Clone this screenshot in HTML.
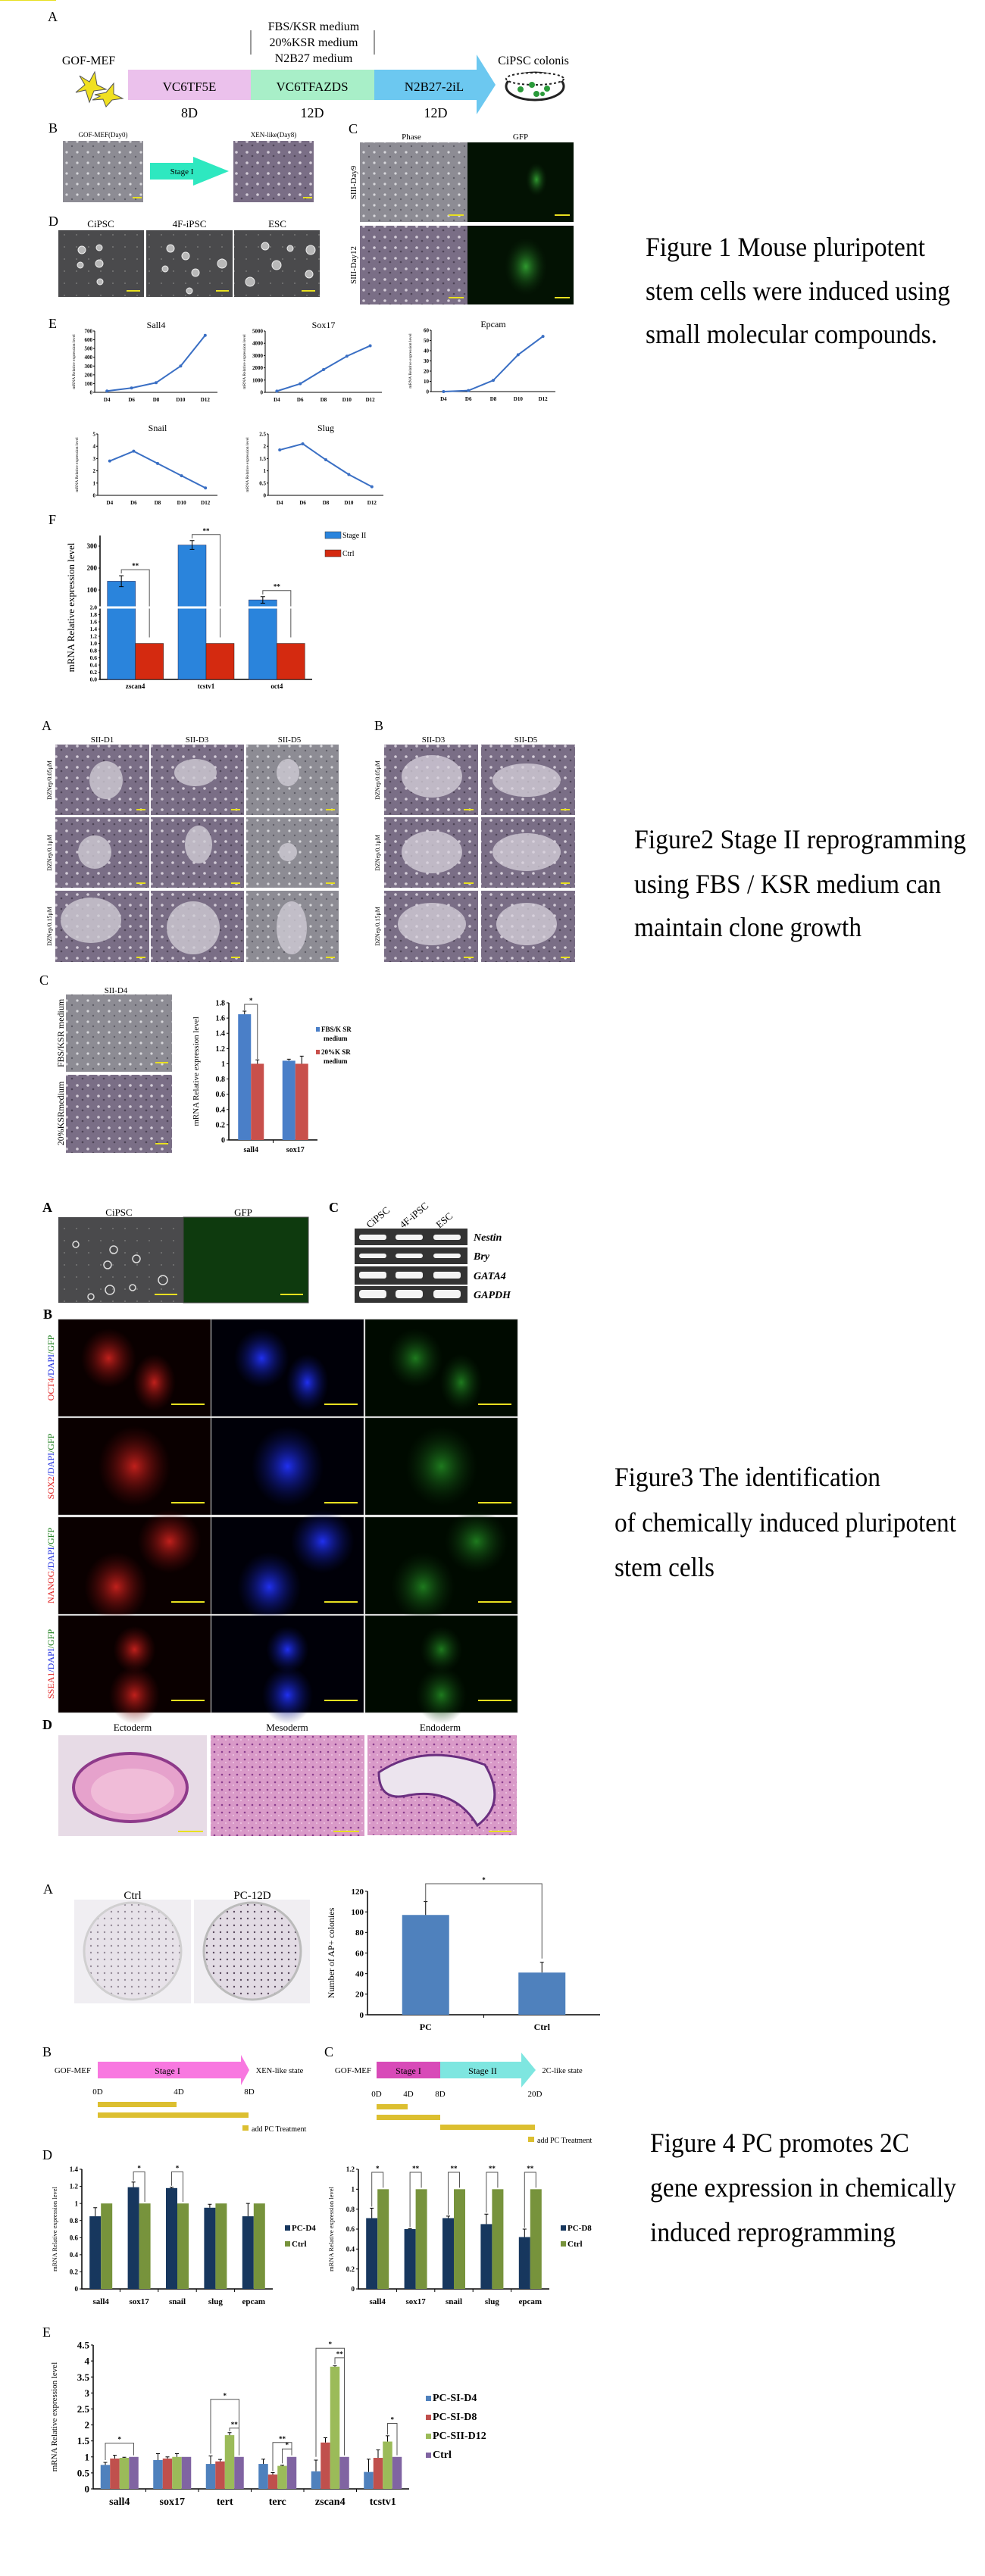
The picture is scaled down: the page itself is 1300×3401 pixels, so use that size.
<!DOCTYPE html>
<html><head><meta charset="utf-8">
<style>
html,body{margin:0;padding:0;background:#fff;}
svg{display:block;font-family:"Liberation Serif",serif;}
</style></head>
<body>
<svg id="page" xmlns="http://www.w3.org/2000/svg" width="1300" height="3401" viewBox="0 0 1300 3401">
<defs>
<pattern id="phase" width="14" height="14" patternUnits="userSpaceOnUse"><rect width="14" height="14" fill="#8d8c94"/><circle cx="4" cy="5" r="1.6" fill="#d8d8dc"/><circle cx="11" cy="11" r="1.2" fill="#5e5d66"/></pattern>
<pattern id="phasep" width="14" height="14" patternUnits="userSpaceOnUse"><rect width="14" height="14" fill="#7a6e86"/><circle cx="4" cy="5" r="1.8" fill="#d4cdd8"/><circle cx="11" cy="10" r="1.3" fill="#4d4356"/></pattern>
<pattern id="dark" width="16" height="16" patternUnits="userSpaceOnUse"><rect width="16" height="16" fill="#4a4a4c"/><circle cx="5" cy="6" r="1" fill="#777"/></pattern>
<pattern id="he" width="10" height="10" patternUnits="userSpaceOnUse"><rect width="10" height="10" fill="#d99ac8"/><circle cx="3" cy="3" r="1.3" fill="#8a3d8e"/><circle cx="8" cy="7" r="1" fill="#f0c8e4"/></pattern>
<pattern id="plate" width="9" height="9" patternUnits="userSpaceOnUse"><rect width="9" height="9" fill="#e2dbe4"/><circle cx="3" cy="4" r="1.2" fill="#5a4a5e"/></pattern>
<radialGradient id="gfp"><stop offset="0" stop-color="#2f9a2f"/><stop offset="1" stop-color="#0c2a0c" stop-opacity="0"/></radialGradient>
<radialGradient id="red"><stop offset="0" stop-color="#c0201c"/><stop offset="1" stop-color="#5a0808" stop-opacity="0"/></radialGradient>
<radialGradient id="blue"><stop offset="0" stop-color="#2030f0"/><stop offset="1" stop-color="#081060" stop-opacity="0"/></radialGradient>
<radialGradient id="green"><stop offset="0" stop-color="#1e7a1e"/><stop offset="1" stop-color="#0a2a0a" stop-opacity="0"/></radialGradient>
</defs>

<!-- ============ FIGURE 1 ============ -->
<g font-size="13">
<text x="63" y="28" font-size="18">A</text>
<text x="117" y="85" text-anchor="middle" font-size="16">GOF-MEF</text>
<g fill="#f0e020" stroke="#555" stroke-width="1">
<polygon points="105,100 118,108 125,95 128,112 140,118 124,120 118,135 113,119 100,122 112,112"/>
<polygon points="125,125 140,122 150,110 150,124 162,130 148,132 140,141 136,131 122,132 132,127"/>
</g>
<rect x="169" y="92" width="162" height="40" fill="#ebc1ec"/>
<rect x="331" y="92" width="163" height="40" fill="#a8efc8"/>
<polygon points="494,92 629,92 629,72 654,112 629,151 629,132 494,132" fill="#6cc8f0"/>
<text x="250" y="120" text-anchor="middle" font-size="17">VC6TF5E</text>
<text x="412" y="120" text-anchor="middle" font-size="17">VC6TFAZDS</text>
<text x="573" y="120" text-anchor="middle" font-size="17">N2B27-2iL</text>
<line x1="331" y1="40" x2="331" y2="72" stroke="#333"/>
<line x1="494" y1="40" x2="494" y2="72" stroke="#333"/>
<text x="414" y="40" text-anchor="middle" font-size="16">FBS/KSR medium</text>
<text x="414" y="61" text-anchor="middle" font-size="16">20%KSR medium</text>
<text x="414" y="82" text-anchor="middle" font-size="16">N2B27 medium</text>
<text x="250" y="155" text-anchor="middle" font-size="18">8D</text>
<text x="412" y="155" text-anchor="middle" font-size="18">12D</text>
<text x="575" y="155" text-anchor="middle" font-size="18">12D</text>
<text x="704" y="85" text-anchor="middle" font-size="16">CiPSC colonis</text>
<g>
<ellipse cx="706" cy="114" rx="38" ry="18" fill="#fff" stroke="#222" stroke-width="3"/>
<ellipse cx="706" cy="104" rx="38" ry="8" fill="#fff" stroke="#222" stroke-width="2" stroke-dasharray="3 3"/>
<circle cx="687" cy="118" r="4" fill="#2a9a3a"/><circle cx="702" cy="112" r="4" fill="#2a9a3a"/><circle cx="708" cy="124" r="4" fill="#2a9a3a"/><circle cx="722" cy="117" r="4" fill="#2a9a3a"/><circle cx="716" cy="124" r="3" fill="#2a9a3a"/>
</g>

<text x="64" y="175" font-size="18">B</text>
<text x="136" y="181" text-anchor="middle" font-size="9">GOF-MEF(Day0)</text>
<text x="361" y="181" text-anchor="middle" font-size="9">XEN-like(Day8)</text>
<rect x="83" y="186" width="106" height="81" fill="url(#phase)"/>
<rect x="308" y="186" width="106" height="81" fill="url(#phasep)"/>
<polygon points="198,215 255,215 255,207 302,226 255,245 255,237 198,237" fill="#2ee8c0"/>
<text x="240" y="230" text-anchor="middle" font-size="11">Stage I</text>

<text x="460" y="176" font-size="18">C</text>
<text x="543" y="184" text-anchor="middle" font-size="11">Phase</text>
<text x="687" y="184" text-anchor="middle" font-size="11">GFP</text>
<rect x="475" y="188" width="142" height="105" fill="url(#phase)"/>
<rect x="617" y="188" width="140" height="105" fill="#031203"/>
<ellipse cx="708" cy="237" rx="14" ry="22" fill="url(#gfp)"/>
<rect x="475" y="298" width="142" height="104" fill="url(#phasep)"/>
<rect x="617" y="298" width="140" height="104" fill="#031203"/>
<ellipse cx="694" cy="352" rx="28" ry="38" fill="url(#gfp)"/>
<text transform="translate(470,241) rotate(-90)" text-anchor="middle" font-size="11">SIII-Day9</text>
<text transform="translate(470,350) rotate(-90)" text-anchor="middle" font-size="11">SIII-Day12</text>

<text x="64" y="298" font-size="18">D</text>
<text x="133" y="300" text-anchor="middle" font-size="13">CiPSC</text>
<text x="250" y="300" text-anchor="middle" font-size="13">4F-iPSC</text>
<text x="366" y="300" text-anchor="middle" font-size="13">ESC</text>
<rect x="77" y="304" width="113" height="88" fill="url(#dark)"/>
<rect x="193" y="304" width="114" height="88" fill="url(#dark)"/>
<rect x="309" y="304" width="113" height="88" fill="url(#dark)"/>
<g fill="#b8b8b8" stroke="#eee" stroke-width="1">
<circle cx="108" cy="330" r="5"/><circle cx="131" cy="327" r="4"/><circle cx="106" cy="350" r="4"/><circle cx="131" cy="348" r="5"/><circle cx="132" cy="372" r="4"/>
<circle cx="225" cy="328" r="5"/><circle cx="245" cy="338" r="5"/><circle cx="218" cy="355" r="4"/><circle cx="258" cy="360" r="5"/><circle cx="293" cy="348" r="6"/><circle cx="250" cy="384" r="4"/>
<circle cx="350" cy="325" r="5"/><circle cx="383" cy="328" r="4"/><circle cx="410" cy="330" r="6"/><circle cx="365" cy="350" r="6"/><circle cx="408" cy="362" r="5"/><circle cx="330" cy="372" r="6"/>
</g>
<g stroke="#e8e020" stroke-width="2">
<line x1="175" y1="261" x2="187" y2="261"/><line x1="400" y1="261" x2="412" y2="261"/>
<line x1="592" y1="284" x2="612" y2="284"/><line x1="732" y1="284" x2="752" y2="284"/>
<line x1="592" y1="393" x2="612" y2="393"/><line x1="732" y1="393" x2="752" y2="393"/>
<line x1="167" y1="384" x2="185" y2="384"/><line x1="285" y1="384" x2="302" y2="384"/><line x1="398" y1="384" x2="416" y2="384"/>
</g>

<text x="64" y="433" font-size="18">E</text>
<g id="figE"></g>

<text x="64" y="692" font-size="18">F</text>
<g id="figF"></g>

<text x="852" y="338" font-size="36" textLength="369" lengthAdjust="spacingAndGlyphs">Figure 1 Mouse pluripotent</text>
<text x="852" y="396" font-size="36" textLength="402" lengthAdjust="spacingAndGlyphs">stem cells were induced using</text>
<text x="852" y="453" font-size="36" textLength="385" lengthAdjust="spacingAndGlyphs">small molecular compounds.</text>
</g>

<!-- ============ FIGURE 2 ============ -->
<g>
<text x="55" y="964" font-size="18">A</text>
<text x="135" y="980" text-anchor="middle" font-size="11">SII-D1</text>
<text x="260" y="980" text-anchor="middle" font-size="11">SII-D3</text>
<text x="382" y="980" text-anchor="middle" font-size="11">SII-D5</text>
<g>
<rect x="73" y="983" width="124" height="93" fill="url(#phasep)"/><rect x="199" y="983" width="123" height="93" fill="url(#phasep)"/><rect x="325" y="983" width="122" height="93" fill="url(#phase)"/>
<rect x="73" y="1079" width="124" height="93" fill="url(#phasep)"/><rect x="199" y="1079" width="123" height="93" fill="url(#phasep)"/><rect x="325" y="1079" width="122" height="93" fill="url(#phase)"/>
<rect x="73" y="1176" width="124" height="94" fill="url(#phasep)"/><rect x="199" y="1176" width="123" height="94" fill="url(#phasep)"/><rect x="325" y="1176" width="122" height="94" fill="url(#phase)"/>
<g fill="#cfcbd4" opacity="0.8"><ellipse cx="140" cy="1030" rx="22" ry="25"/><ellipse cx="258" cy="1020" rx="28" ry="18"/><ellipse cx="380" cy="1020" rx="15" ry="18"/><ellipse cx="125" cy="1125" rx="22" ry="22"/><ellipse cx="262" cy="1115" rx="18" ry="25"/><ellipse cx="380" cy="1125" rx="12" ry="12"/><ellipse cx="120" cy="1215" rx="40" ry="30"/><ellipse cx="255" cy="1225" rx="35" ry="35"/><ellipse cx="385" cy="1225" rx="20" ry="35"/></g>
</g>
<text transform="translate(68,1030) rotate(-90)" text-anchor="middle" font-size="8">DZNep/0.05μM</text>
<text transform="translate(68,1126) rotate(-90)" text-anchor="middle" font-size="8">DZNep/0.1μM</text>
<text transform="translate(68,1223) rotate(-90)" text-anchor="middle" font-size="8">DZNep/0.15μM</text>

<text x="494" y="964" font-size="18">B</text>
<text x="572" y="980" text-anchor="middle" font-size="11">SII-D3</text>
<text x="694" y="980" text-anchor="middle" font-size="11">SII-D5</text>
<g>
<rect x="507" y="983" width="124" height="93" fill="url(#phasep)"/><rect x="635" y="983" width="124" height="93" fill="url(#phasep)"/>
<rect x="507" y="1079" width="124" height="93" fill="url(#phasep)"/><rect x="635" y="1079" width="124" height="93" fill="url(#phasep)"/>
<rect x="507" y="1176" width="124" height="94" fill="url(#phasep)"/><rect x="635" y="1176" width="124" height="94" fill="url(#phasep)"/>
<g fill="#d8d2dc" opacity="0.75"><ellipse cx="570" cy="1025" rx="40" ry="28"/><ellipse cx="695" cy="1030" rx="45" ry="22"/><ellipse cx="570" cy="1125" rx="40" ry="28"/><ellipse cx="695" cy="1125" rx="45" ry="25"/><ellipse cx="570" cy="1220" rx="45" ry="28"/><ellipse cx="695" cy="1220" rx="40" ry="28"/></g>
</g>
<text transform="translate(501,1030) rotate(-90)" text-anchor="middle" font-size="8">DZNep/0.05μM</text>
<text transform="translate(501,1126) rotate(-90)" text-anchor="middle" font-size="8">DZNep/0.1μM</text>
<text transform="translate(501,1223) rotate(-90)" text-anchor="middle" font-size="8">DZNep/0.15μM</text>

<text x="52" y="1300" font-size="18">C</text>
<text x="153" y="1311" text-anchor="middle" font-size="11">SII-D4</text>
<rect x="87" y="1313" width="140" height="102" fill="url(#phase)"/>
<rect x="87" y="1419" width="140" height="103" fill="url(#phasep)"/>
<text transform="translate(84,1364) rotate(-90)" text-anchor="middle" font-size="12">FBS/KSR medium</text>
<text transform="translate(84,1470) rotate(-90)" text-anchor="middle" font-size="12">20%KSRmedium</text>
<g stroke="#e8e020" stroke-width="2"><line x1="74" y1="0" x2="0" y2="0"/><line x1="180" y1="1069" x2="192" y2="1069"/><line x1="305" y1="1069" x2="317" y2="1069"/><line x1="430" y1="1069" x2="442" y2="1069"/><line x1="180" y1="1166" x2="192" y2="1166"/><line x1="305" y1="1166" x2="317" y2="1166"/><line x1="430" y1="1166" x2="442" y2="1166"/><line x1="180" y1="1264" x2="192" y2="1264"/><line x1="305" y1="1264" x2="317" y2="1264"/><line x1="430" y1="1264" x2="442" y2="1264"/><line x1="612" y1="1069" x2="625" y2="1069"/><line x1="740" y1="1069" x2="752" y2="1069"/><line x1="612" y1="1166" x2="625" y2="1166"/><line x1="740" y1="1166" x2="752" y2="1166"/><line x1="612" y1="1264" x2="625" y2="1264"/><line x1="740" y1="1264" x2="752" y2="1264"/><line x1="205" y1="1403" x2="222" y2="1403"/><line x1="205" y1="1510" x2="222" y2="1510"/></g>
<g id="fig2C"></g>

<text x="837" y="1120" font-size="36" textLength="438" lengthAdjust="spacingAndGlyphs">Figure2 Stage II  reprogramming</text>
<text x="837" y="1179" font-size="36" textLength="405" lengthAdjust="spacingAndGlyphs">using FBS / KSR medium can</text>
<text x="837" y="1236" font-size="36" textLength="300" lengthAdjust="spacingAndGlyphs">maintain clone growth</text>
</g>

<!-- ============ FIGURE 3 ============ -->
<g>
<text x="56" y="1600" font-size="18" font-weight="bold">A</text>
<text x="157" y="1605" text-anchor="middle" font-size="13">CiPSC</text>
<text x="321" y="1605" text-anchor="middle" font-size="13">GFP</text>
<rect x="77" y="1607" width="165" height="113" fill="url(#dark)"/>
<rect x="242" y="1607" width="165" height="113" fill="#0e3a0e" stroke="#444"/>
<g fill="none" stroke="#ddd" stroke-width="1.5"><circle cx="100" cy="1643" r="4"/><circle cx="150" cy="1650" r="5"/><circle cx="142" cy="1670" r="5"/><circle cx="180" cy="1662" r="5"/><circle cx="215" cy="1690" r="6"/><circle cx="175" cy="1700" r="4"/><circle cx="145" cy="1703" r="6"/><circle cx="120" cy="1712" r="4"/></g>
<g stroke="#e8e020" stroke-width="2"><line x1="204" y1="1709" x2="234" y2="1709"/><line x1="370" y1="1709" x2="400" y2="1709"/></g>

<text x="434" y="1600" font-size="18" font-weight="bold">C</text>
<text transform="translate(488,1622) rotate(-40)" font-size="13">CiPSC</text>
<text transform="translate(532,1622) rotate(-40)" font-size="13">4F-iPSC</text>
<text transform="translate(580,1622) rotate(-40)" font-size="13">ESC</text>
<g>
<rect x="468" y="1622" width="149" height="22" fill="#333"/><rect x="468" y="1647" width="149" height="22" fill="#333"/><rect x="468" y="1672" width="149" height="24" fill="#333"/><rect x="468" y="1698" width="149" height="22" fill="#333"/>
<g fill="#f4f4f4"><rect x="474" y="1630" width="36" height="7" rx="3"/><rect x="522" y="1630" width="36" height="7" rx="3"/><rect x="572" y="1630" width="36" height="7" rx="3"/>
<rect x="474" y="1655" width="36" height="6" rx="3"/><rect x="522" y="1655" width="36" height="6" rx="3"/><rect x="572" y="1655" width="36" height="6" rx="3"/>
<rect x="474" y="1679" width="36" height="9" rx="3"/><rect x="522" y="1679" width="36" height="9" rx="3"/><rect x="572" y="1679" width="36" height="9" rx="3"/>
<rect x="474" y="1703" width="36" height="11" rx="4"/><rect x="522" y="1703" width="36" height="11" rx="4"/><rect x="572" y="1703" width="36" height="11" rx="4"/></g>
</g>
<g font-size="14" font-weight="bold" font-style="italic">
<text x="625" y="1638">Nestin</text>
<text x="625" y="1663">Bry</text>
<text x="625" y="1689">GATA4</text>
<text x="625" y="1714">GAPDH</text>
</g>

<text x="57" y="1741" font-size="18" font-weight="bold">B</text>
<g id="ifGrid"></g>

<text x="56" y="2283" font-size="18" font-weight="bold">D</text>
<text x="175" y="2285" text-anchor="middle" font-size="13">Ectoderm</text>
<text x="379" y="2285" text-anchor="middle" font-size="13">Mesoderm</text>
<text x="581" y="2285" text-anchor="middle" font-size="13">Endoderm</text>
<rect x="77" y="2291" width="196" height="133" fill="#e7dbe6"/>
<ellipse cx="172" cy="2360" rx="75" ry="45" fill="#e6a2cc" stroke="#8e3a8a" stroke-width="4"/>
<ellipse cx="175" cy="2365" rx="55" ry="30" fill="#f0bcd8"/>
<rect x="278" y="2291" width="203" height="133" fill="url(#he)"/>
<rect x="485" y="2291" width="197" height="132" fill="url(#he)"/>
<path d="M500,2340 Q560,2300 640,2330 Q670,2380 630,2410 Q600,2360 540,2370 Q500,2380 500,2340Z" fill="#ece4ee" stroke="#6b2f80" stroke-width="3"/>
<g stroke="#e8e020" stroke-width="2"><line x1="235" y1="2418" x2="268" y2="2418"/><line x1="440" y1="2418" x2="474" y2="2418"/><line x1="645" y1="2418" x2="675" y2="2418"/></g>

<text x="811" y="1962" font-size="36" textLength="351" lengthAdjust="spacingAndGlyphs">Figure3 The identification</text>
<text x="811" y="2022" font-size="36" textLength="451" lengthAdjust="spacingAndGlyphs">of chemically induced pluripotent</text>
<text x="811" y="2081" font-size="36" textLength="132" lengthAdjust="spacingAndGlyphs">stem cells</text>
</g>

<!-- ============ FIGURE 4 ============ -->
<g>
<text x="57" y="2500" font-size="18">A</text>
<text x="175" y="2507" text-anchor="middle" font-size="15">Ctrl</text>
<text x="333" y="2507" text-anchor="middle" font-size="15">PC-12D</text>
<rect x="98" y="2508" width="154" height="137" fill="#f0eef2"/>
<rect x="256" y="2508" width="153" height="137" fill="#f0eef2"/>
<circle cx="175" cy="2576" r="64" fill="url(#plate)" opacity="0.6" stroke="#bbb" stroke-width="3"/>
<circle cx="333" cy="2576" r="64" fill="url(#plate)" stroke="#bbb" stroke-width="3"/>
<g id="fig4A"></g>

<text x="56" y="2715" font-size="18">B</text>
<text x="96" y="2737" text-anchor="middle" font-size="11">GOF-MEF</text>
<polygon points="129,2722 318,2722 318,2713 329,2733 318,2753 318,2744 129,2744" fill="#f878e0"/>
<text x="221" y="2738" text-anchor="middle" font-size="12">Stage I</text>
<text x="369" y="2737" text-anchor="middle" font-size="10.5">XEN-like state</text>
<g font-size="11" text-anchor="middle"><text x="129" y="2765">0D</text><text x="236" y="2765">4D</text><text x="329" y="2765">8D</text></g>
<rect x="129" y="2775" width="104" height="7" fill="#dcbf30"/>
<rect x="129" y="2789" width="199" height="7" fill="#dcbf30"/>
<rect x="320" y="2806" width="8" height="7" fill="#dcbf30"/>
<text x="332" y="2814" font-size="10">add PC Treatment</text>

<text x="428" y="2715" font-size="18">C</text>
<text x="466" y="2737" text-anchor="middle" font-size="11">GOF-MEF</text>
<rect x="497" y="2722" width="84" height="22" fill="#d84ab8"/>
<polygon points="581,2722 688,2722 688,2710 707,2733 688,2756 688,2744 581,2744" fill="#7ee6e0"/>
<text x="539" y="2738" text-anchor="middle" font-size="12">Stage I</text>
<text x="637" y="2738" text-anchor="middle" font-size="12">Stage II</text>
<text x="742" y="2737" text-anchor="middle" font-size="10.5">2C-like state</text>
<g font-size="11" text-anchor="middle"><text x="497" y="2768">0D</text><text x="539" y="2768">4D</text><text x="581" y="2768">8D</text><text x="706" y="2768">20D</text></g>
<rect x="497" y="2778" width="41" height="7" fill="#dcbf30"/>
<rect x="497" y="2792" width="84" height="7" fill="#dcbf30"/>
<rect x="581" y="2805" width="125" height="7" fill="#dcbf30"/>
<rect x="697" y="2821" width="8" height="7" fill="#dcbf30"/>
<text x="709" y="2829" font-size="10">add PC Treatment</text>

<text x="56" y="2851" font-size="18">D</text>
<g id="fig4D1"></g>
<g id="fig4D2"></g>
<text x="56" y="3085" font-size="18">E</text>
<g id="fig4E"></g>

<text x="858" y="2841" font-size="36" textLength="342" lengthAdjust="spacingAndGlyphs">Figure 4 PC promotes 2C</text>
<text x="858" y="2900" font-size="36" textLength="404" lengthAdjust="spacingAndGlyphs">gene expression in chemically</text>
<text x="858" y="2959" font-size="36" textLength="324" lengthAdjust="spacingAndGlyphs">induced reprogramming</text>
</g>
</svg>

<script>
// ---------- DATA ----------
const dayLabels = ["D4","D6","D8","D10","D12"];
const sall4Line = [15, 50, 110, 300, 650];
const sox17Line = [100, 700, 1850, 2950, 3800];
const epcamLine = [0, 1, 11, 36, 54];
const snailLine = [2.8, 3.6, 2.6, 1.6, 0.6];
const slugLine = [1.85, 2.1, 1.45, 0.85, 0.35];

const fCategories = ["zscan4","tcstv1","oct4"];
const fStageII = [140, 305, 55];
const fStageIIErr = [25, 20, 15];
const fCtrl = [1, 1, 1];

const f2Categories = ["sall4","sox17"];
const f2FbsKsr = [1.65, 1.04];
const f2FbsKsrErr = [0.04, 0.02];
const f2Ksr20 = [1.0, 1.0];
const f2Ksr20Err = [0.05, 0.1];

const apCategories = ["PC","Ctrl"];
const apValues = [97, 41];
const apErr = [13, 10];

const dCategories = ["sall4","sox17","snail","slug","epcam"];
const dPcD4 = [0.85, 1.19, 1.18, 0.95, 0.85];
const dPcD4Err = [0.1, 0.06, 0.01, 0.04, 0.15];
const dCtrl = [1, 1, 1, 1, 1];
const dPcD8 = [0.71, 0.6, 0.71, 0.65, 0.52];
const dPcD8Err = [0.1, 0.005, 0.02, 0.1, 0.08];

const eCategories = ["sall4","sox17","tert","terc","zscan4","tcstv1"];
const ePcSiD4 = [0.75, 0.9, 0.78, 0.78, 0.55, 0.53];
const ePcSiD8 = [0.95, 0.95, 0.86, 0.45, 1.45, 0.97];
const ePcSiiD12 = [0.97, 1.0, 1.68, 0.72, 3.82, 1.48];
const eCtrl = [1, 1, 1, 1, 1, 1];
const eErrD4 = [0.08, 0.2, 0.25, 0.15, 0.35, 0.4];
const eErrD8 = [0.1, 0.05, 0.06, 0.06, 0.15, 0.25];
const eErrD12 = [0.02, 0.1, 0.08, 0.02, 0.03, 0.18];

// ---------- HELPERS ----------
const NS = "http://www.w3.org/2000/svg";
function mk(tag, attrs, parent) {
  const el = document.createElementNS(NS, tag);
  for (const k in attrs) el.setAttribute(k, attrs[k]);
  parent.appendChild(el);
  return el;
}
function txt(parent, x, y, s, size, anchor, extra) {
  const t = mk('text', Object.assign({x: x, y: y, 'font-size': size, 'text-anchor': anchor || 'start'}, extra || {}), parent);
  t.textContent = s;
  return t;
}

// ---------- LINE CHARTS (Fig1 E) ----------
function lineChart(parent, x0, y0, w, h, maxV, step, title, values) {
  const g = mk('g', {}, parent);
  
  
  const yScale = v => y0 - v / maxV * h;
  const xScale = i => x0 + (i + 0.5) * (w / values.length);
  const ttl = txt(g, x0 + w / 2, y0 - h - 4, title, 12, 'middle');
  
  
  const yl = txt(g, 0, 0, 'mRNA Relative expression level', 5.5, 'middle', {transform: `translate(${x0 - 26},${y0 - h / 2}) rotate(-90)`});
  
  
  const ax = mk('path', {d: `M${x0},${y0 - h} V${y0} H${x0 + w}`, stroke: '#000', fill: 'none', 'stroke-width': 1}, g);
  
  
  for (let v = 0; v <= maxV + 1e-9; v += step) {
    const t = txt(g, x0 - 3, yScale(v) + 2.5, String(Math.round(v * 10) / 10), 7, 'end', {'font-weight': 'bold'});
    
    
    mk('line', {x1: x0 - 2, x2: x0, y1: yScale(v), y2: yScale(v), stroke: '#000'}, g);
  }
  dayLabels.forEach((d, i) => {
    const t = txt(g, xScale(i), y0 + 12, d, 7, 'middle', {'font-weight': 'bold'});
    
    
  });
  const pts = values.map((v, i) => `${xScale(i)},${yScale(v)}`).join(' ');
  const pl = mk('polyline', {points: pts, fill: 'none', stroke: '#3a6fc4', 'stroke-width': 2}, g);
  
  
  values.forEach((v, i) => {
    const c = mk('circle', {cx: xScale(i), cy: yScale(v), r: 2, fill: '#3a6fc4'}, g);
    
    
  });
}
const gE = document.getElementById('figE');
lineChart(gE, 125, 518, 162, 81, 700, 100, 'Sall4', sall4Line);
lineChart(gE, 350, 518, 154, 81, 5000, 1000, 'Sox17', sox17Line);
lineChart(gE, 569, 517, 164, 81, 60, 10, 'Epcam', epcamLine);
lineChart(gE, 129, 654, 158, 81, 5, 1, 'Snail', snailLine);
lineChart(gE, 354, 654, 152, 81, 2.5, 0.5, 'Slug', slugLine);

// ---------- GENERIC BAR CHART ----------
function barChart(parent, o) {
  const g = mk('g', {}, parent);
  
  
  const yScale = v => o.y0 - v / o.maxV * o.h;
  const n = o.categories.length;
  const cw = (o.xEnd - o.x0) / n;
  const xCenter = i => o.x0 + (i + 0.5) * cw;
  const ax = mk('path', {d: `M${o.x0},${o.y0 - o.h} V${o.y0} H${o.xEnd}`, stroke: '#000', fill: 'none', 'stroke-width': 1.5}, g);
  
  
  o.ticks.forEach(v => {
    mk('line', {x1: o.x0 - 3, x2: o.x0, y1: yScale(v), y2: yScale(v), stroke: '#000'}, g);
    const t = txt(g, o.x0 - 5, yScale(v) + o.tickSize * 0.35, o.tickFmt ? o.tickFmt(v) : String(v), o.tickSize, 'end', {'font-weight': 'bold'});
    
    
  });
  for (let i = 1; i < n; i++) mk('line', {x1: o.x0 + i * cw, x2: o.x0 + i * cw, y1: o.y0, y2: o.y0 + 4, stroke: '#000'}, g);
  o.categories.forEach((c, i) => {
    const t = txt(g, xCenter(i), o.y0 + o.labelDy, c, o.labelSize, 'middle', {'font-weight': o.labelBold === false ? 'normal' : 'bold'});
    
    
  });
  const ns = o.series.length;
  o.series.forEach((s, si) => {
    s.values.forEach((v, i) => {
      const bx = xCenter(i) - ns * o.barW / 2 + si * o.barW;
      const b = mk('rect', {x: bx, y: yScale(v), width: o.barW, height: o.y0 - yScale(v), fill: s.color}, g);
      
      
      if (s.err) {
        const e = s.err[i];
        const cx = bx + o.barW / 2;
        const eb = mk('path', {d: `M${cx},${yScale(v)} V${yScale(v + e)} M${cx - 2.5},${yScale(v + e)} H${cx + 2.5}`, stroke: '#000', 'stroke-width': 1, fill: 'none'}, g);
        
        
      }
    });
  });
  if (o.ytitle) {
    const yl = txt(g, 0, 0, o.ytitle, o.ytitleSize, 'middle', {transform: `translate(${o.ytitleX},${o.y0 - o.h / 2}) rotate(-90)`});
    
    
  }
  if (o.legend) {
    o.series.forEach((s, si) => {
      const ly = o.legend.y + si * o.legend.dy;
      const sw = mk('rect', {x: o.legend.x, y: ly - 7, width: 7, height: 7, fill: s.color}, g);
      
      
      const lt = txt(g, o.legend.x + 9, ly, s.label, o.legend.size, 'start', {'font-weight': 'bold'});
      
      
    });
  }
  return {yScale: yScale, xCenter: xCenter, cw: cw, g: g};
}
function bracket(g, x1, x2, y1, y2, top, label) {
  const p = mk('path', {d: `M${x1},${y1} V${top} H${x2} V${y2}`, stroke: '#555', fill: 'none', 'stroke-width': 1}, g);
  
  
  const t = txt(g, (x1 + x2) / 2, top - 2, label, 9, 'middle', {'font-weight': 'bold'});
  
  
}

// ---------- FIG1 F (broken axis) ----------
(function () {
  const g = document.getElementById('figF');
  const x0 = 132, y0 = 897, xEnd = 412, yBreak = 802;
  const lowScale = v => y0 - v * 47.5;
  const highScale = v => 779 - (v - 100) * 0.29;
  const yOf = v => v <= 2 ? lowScale(v) : highScale(v);
  const cw = (xEnd - x0) / fCategories.length;
  const barW = 37;
  const ax = mk('path', {d: `M${x0},707 V${y0} H${xEnd}`, stroke: '#000', fill: 'none', 'stroke-width': 1.5}, g);
  
  
  for (let i = 0; i <= 10; i++) {
    const v = i * 0.2;
    const t = txt(g, x0 - 4, lowScale(v) + 2.5, v.toFixed(1), 7.5, 'end', {'font-weight': 'bold'});
    
    
    mk('line', {x1: x0 - 2, x2: x0, y1: lowScale(v), y2: lowScale(v), stroke: '#000'}, g);
  }
  [100, 200, 300].forEach(v => {
    const t = txt(g, x0 - 4, highScale(v) + 3, String(v), 9, 'end', {'font-weight': 'bold'});
    
    
    mk('line', {x1: x0 - 2, x2: x0, y1: highScale(v), y2: highScale(v), stroke: '#000'}, g);
  });
  const yl = txt(g, 0, 0, 'mRNA Relative expression level', 13, 'middle', {transform: `translate(98,802) rotate(-90)`});
  
  
  fCategories.forEach((c, i) => {
    const cx = x0 + (i + 0.5) * cw;
    const bx = cx - barW;
    const b = mk('rect', {x: bx, y: yOf(fStageII[i]), width: barW, height: y0 - yOf(fStageII[i]), fill: '#2a84dc', stroke: '#225', 'stroke-width': 0.5}, g);
    
    
    const r = mk('rect', {x: cx, y: yOf(fCtrl[i]), width: barW, height: y0 - yOf(fCtrl[i]), fill: '#d42a10', stroke: '#222', 'stroke-width': 0.5}, g);
    
    
    const ex = bx + barW / 2, et = yOf(fStageII[i] + fStageIIErr[i]), eb = yOf(fStageII[i] - fStageIIErr[i]);
    const e = mk('path', {d: `M${ex},${eb} V${et} M${ex - 3},${et} H${ex + 3} M${ex - 3},${eb} H${ex + 3}`, stroke: '#000', fill: 'none'}, g);
    
    
    const top = yOf(fStageII[i] + fStageIIErr[i]) - 8;
    bracket(g, ex, cx + barW / 2, yOf(fStageII[i] + fStageIIErr[i]) - 3 + 0 * top, yOf(fCtrl[i]) - 8, top, '**');
  });
  const br = mk('rect', {x: x0 - 4, y: yBreak - 1.5, width: xEnd - x0, height: 3, fill: '#fff'}, g);
  
  
  fCategories.forEach((c, i) => {
    const t = txt(g, x0 + (i + 0.5) * cw, 909, c, 9, 'middle', {'font-weight': 'bold'});
    
    
  });
  const ls1 = mk('rect', {x: 429, y: 702, width: 21, height: 9, fill: '#2a84dc', stroke: '#333', 'stroke-width': 0.5}, g);
  
  
  const lt1 = txt(g, 452, 710, 'Stage II', 10);
  
  
  const ls2 = mk('rect', {x: 429, y: 726, width: 21, height: 9, fill: '#d42a10', stroke: '#333', 'stroke-width': 0.5}, g);
  
  
  const lt2 = txt(g, 452, 734, 'Ctrl', 10);
  
  
})();

// ---------- FIG2 C ----------
(function () {
  const c = barChart(document.getElementById('fig2C'), {
    name: 'fbs-ksr-vs-ksr-chart', x0: 302, y0: 1505, h: 181, maxV: 1.8, xEnd: 419,
    ticks: [0, 0.2, 0.4, 0.6, 0.8, 1, 1.2, 1.4, 1.6, 1.8], tickFmt: v => String(Math.round(v * 10) / 10), tickSize: 10,
    categories: f2Categories, labelDy: 16, labelSize: 10, barW: 17,
    series: [
      {name: 'fbs-ksr', label: 'FBS/KSR', color: '#4a7fc8', values: f2FbsKsr, err: f2FbsKsrErr},
      {name: 'ksr-20', label: '20%KSR', color: '#c8504b', values: f2Ksr20, err: f2Ksr20Err}
    ],
    ytitle: 'mRNA Relative expression level', ytitleSize: 11, ytitleX: 262
  });
  bracket(c.g, c.xCenter(0) - 8.5, c.xCenter(0) + 8.5, c.yScale(f2FbsKsr[0] + 0.05), c.yScale(f2Ksr20[0] + 0.06), c.yScale(1.78), '*');
  const lg = document.getElementById('fig2C');
  [['FBS/K SR', 'medium', '#4a7fc8', 1362], ['20%K SR', 'medium', '#c8504b', 1392]].forEach(L => {
    const s = mk('rect', {x: 417, y: L[3] - 6, width: 5, height: 6, fill: L[2]}, lg);
    
    
    const t1 = txt(lg, 424, L[3], L[0], 9, 'start', {'font-weight': 'bold'});
    
    
    const t2 = txt(lg, 427, L[3] + 12, L[1], 9, 'start', {'font-weight': 'bold'});
    
    
  });
})();

// ---------- FIG3 B immunofluorescence ----------
(function () {
  const g = document.getElementById('ifGrid');
  const rows = [1742, 1872, 2003, 2133];
  const rowH = 128;
  const cols = [77, 279, 482];
  const colW = 201;
  const markers = ['OCT4', 'SOX2', 'NANOG', 'SSEA1'];
  const fills = ['url(#red)', 'url(#blue)', 'url(#green)'];
  const blobs = [[[0.33, 0.4, 0.13, 0.28], [0.63, 0.65, 0.1, 0.27]], [[0.5, 0.5, 0.17, 0.38]], [[0.73, 0.25, 0.15, 0.3], [0.38, 0.72, 0.15, 0.33]], [[0.5, 0.35, 0.1, 0.22], [0.5, 0.82, 0.12, 0.27]]];
  rows.forEach((ry, r) => {
    cols.forEach((cx, c) => {
      const bg = mk('rect', {x: cx, y: ry, width: colW, height: rowH, fill: c === 0 ? '#0a0000' : (c === 1 ? '#000008' : '#000a00'), stroke: '#666', 'stroke-width': 0.5}, g);
      
      
      blobs[r].forEach(b => {
        mk('ellipse', {cx: cx + b[0] * colW, cy: ry + b[1] * rowH, rx: b[2] * colW * 1.4, ry: b[3] * rowH * 1.1, fill: fills[c]}, g);
      });
      const sb = mk('line', {x1: cx + colW - 52, x2: cx + colW - 8, y1: ry + rowH - 16, y2: ry + rowH - 16, stroke: '#e8e020', 'stroke-width': 2}, g);
      
      
    });
    const lab = mk('text', {transform: `translate(71,${ry + rowH / 2}) rotate(-90)`, 'text-anchor': 'middle', 'font-size': 12}, g);
    
    
    const t1 = mk('tspan', {fill: '#e02020'}, lab); t1.textContent = markers[r];
    const t2 = mk('tspan', {fill: '#2030e0'}, lab); t2.textContent = '/DAPI';
    const t3 = mk('tspan', {fill: '#208020'}, lab); t3.textContent = '/GFP';
  });
})();

// ---------- FIG4 A ----------
(function () {
  const c = barChart(document.getElementById('fig4A'), {
    name: 'ap-colonies-chart', x0: 485, y0: 2660, h: 163, maxV: 120, xEnd: 792,
    ticks: [0, 20, 40, 60, 80, 100, 120], tickSize: 11,
    categories: apCategories, labelDy: 20, labelSize: 12, barW: 62,
    series: [{name: 'ap', label: 'AP', color: '#4f81bd', values: apValues, err: apErr}],
    ytitle: 'Number of AP+ colonies', ytitleSize: 12, ytitleX: 441
  });
  bracket(c.g, c.xCenter(0), c.xCenter(1), c.yScale(apValues[0] + apErr[0]), c.yScale(apValues[1] + apErr[1]) - 5, 2487, '*');
})();

// ---------- FIG4 D ----------
(function () {
  const d1 = barChart(document.getElementById('fig4D1'), {
    name: 'pc-d4-chart', x0: 108, y0: 3022, h: 158, maxV: 1.4, xEnd: 360,
    ticks: [0, 0.2, 0.4, 0.6, 0.8, 1, 1.2, 1.4], tickFmt: v => String(Math.round(v * 10) / 10), tickSize: 9,
    categories: dCategories, labelDy: 20, labelSize: 11, barW: 15,
    series: [{name: 'pc-d4', label: 'PC-D4', color: '#17375e', values: dPcD4, err: dPcD4Err},
             {name: 'ctrl', label: 'Ctrl', color: '#77933c', values: dCtrl}],
    ytitle: 'mRNA Relative expression level', ytitleSize: 8.5, ytitleX: 75,
    legend: {x: 376, y: 2945, dy: 21, size: 11}
  });
  [1, 2].forEach(i => bracket(d1.g, d1.xCenter(i) - 7.5, d1.xCenter(i) + 7.5, d1.yScale(dPcD4[i] + dPcD4Err[i]) - 2, d1.yScale(1) - 2, d1.yScale(1.37), '*'));
  const d2 = barChart(document.getElementById('fig4D2'), {
    name: 'pc-d8-chart', x0: 473, y0: 3022, h: 158, maxV: 1.2, xEnd: 725,
    ticks: [0, 0.2, 0.4, 0.6, 0.8, 1, 1.2], tickFmt: v => String(Math.round(v * 10) / 10), tickSize: 9,
    categories: dCategories, labelDy: 20, labelSize: 11, barW: 15,
    series: [{name: 'pc-d8', label: 'PC-D8', color: '#17375e', values: dPcD8, err: dPcD8Err},
             {name: 'ctrl', label: 'Ctrl', color: '#77933c', values: dCtrl}],
    ytitle: 'mRNA Relative expression level', ytitleSize: 8.5, ytitleX: 440,
    legend: {x: 740, y: 2945, dy: 21, size: 11}
  });
  const sig = ['*', '**', '**', '**', '**'];
  dCategories.forEach((c, i) => bracket(d2.g, d2.xCenter(i) - 7.5, d2.xCenter(i) + 7.5, d2.yScale(dPcD8[i] + dPcD8Err[i]) - 2, d2.yScale(1) - 2, d2.yScale(1.17), sig[i]));
})();

// ---------- FIG4 E ----------
(function () {
  const c = barChart(document.getElementById('fig4E'), {
    name: 'pc-stage-chart', x0: 123, y0: 3286, h: 190, maxV: 4.5, xEnd: 540,
    ticks: [0, 0.5, 1, 1.5, 2, 2.5, 3, 3.5, 4, 4.5], tickSize: 13,
    categories: eCategories, labelDy: 21, labelSize: 14, barW: 12.5,
    series: [{name: 'pc-si-d4', label: 'PC-SI-D4', color: '#4f81bd', values: ePcSiD4, err: eErrD4},
             {name: 'pc-si-d8', label: 'PC-SI-D8', color: '#c0504d', values: ePcSiD8, err: eErrD8},
             {name: 'pc-sii-d12', label: 'PC-SII-D12', color: '#9bbb59', values: ePcSiiD12, err: eErrD12},
             {name: 'ctrl', label: 'Ctrl', color: '#8064a2', values: eCtrl}],
    ytitle: 'mRNA Relative expression level', ytitleSize: 11, ytitleX: 75,
    legend: {x: 562, y: 3170, dy: 25, size: 14}
  });
  const off = k => -2 * 12.5 + k * 12.5 + 6.25;
  bracket(c.g, c.xCenter(0) + off(0), c.xCenter(0) + off(3), c.yScale(0.9), c.yScale(1.05), c.yScale(1.43), '*');
  bracket(c.g, c.xCenter(2) + off(0), c.xCenter(2) + off(3), c.yScale(1.1), c.yScale(1.05), c.yScale(2.8), '*');
  bracket(c.g, c.xCenter(2) + off(2), c.xCenter(2) + off(3), c.yScale(1.8), c.yScale(1.05), c.yScale(1.9), '**');
  bracket(c.g, c.xCenter(3) + off(1), c.xCenter(3) + off(3), c.yScale(0.55), c.yScale(1.05), c.yScale(1.45), '**');
  bracket(c.g, c.xCenter(3) + off(2), c.xCenter(3) + off(3), c.yScale(0.8), c.yScale(1.05), c.yScale(1.25), '*');
  bracket(c.g, c.xCenter(4) + off(0), c.xCenter(4) + off(3), c.yScale(1.0), c.yScale(1.05), c.yScale(4.4), '*');
  bracket(c.g, c.xCenter(4) + off(2), c.xCenter(4) + off(3), c.yScale(3.9), c.yScale(1.05), c.yScale(4.1), '**');
  bracket(c.g, c.xCenter(5) + off(2), c.xCenter(5) + off(3), c.yScale(1.7), c.yScale(1.05), c.yScale(2.05), '*');
})();
</script>
</body></html>
